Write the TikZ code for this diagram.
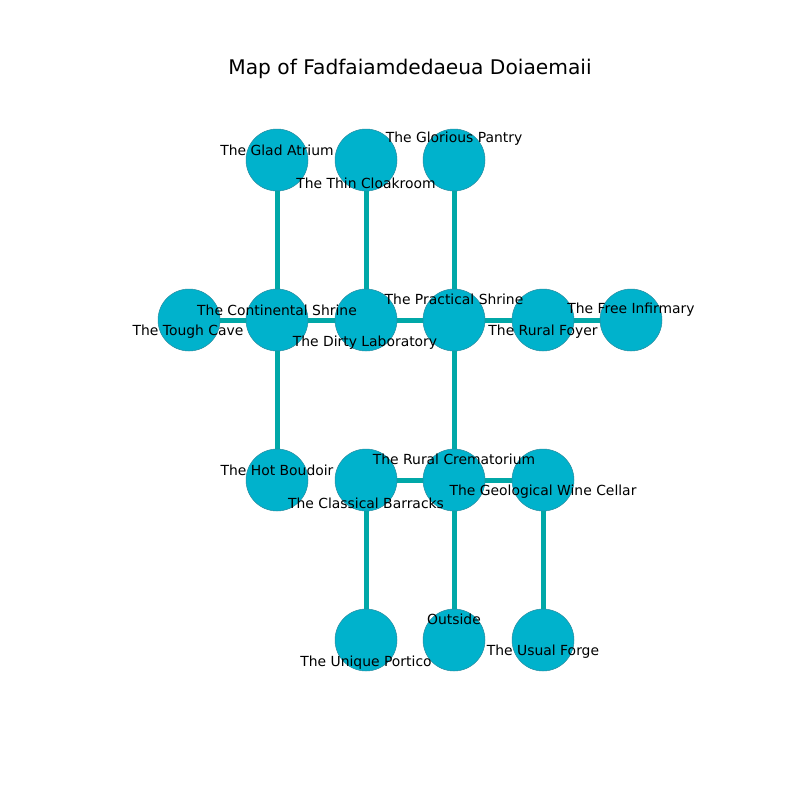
\documentclass[tikz,border=0pt]{standalone}
\usepackage{fontspec}
\setmainfont{DejaVu Sans}
\definecolor{nodefill}{RGB}{0,178,204}
\definecolor{nodeedge}{RGB}{40,140,160}
\definecolor{edgecol}{RGB}{0,168,168}
\tikzset{
  room/.style={circle,draw=nodeedge,line width=0.5pt,fill=nodefill,minimum size=62pt,inner sep=0pt},
  link/.style={draw=edgecol,line width=5pt},
  lbl/.style={font=\fontsize{13.9}{16}\selectfont,inner sep=0pt,text=black,yshift=-2pt},
}
\begin{document}
\begin{tikzpicture}[x=1pt,y=-1pt]
\useasboundingbox[fill=white] (0,0) rectangle (800,800);
% node coordinates
\coordinate (pGA) at (277,160);
\coordinate (pTC) at (366,160);
\coordinate (pGP) at (454,160);
\coordinate (pTo) at (189,320);
\coordinate (pCS) at (277,320);
\coordinate (pDL) at (366,320);
\coordinate (pPS) at (454,320);
\coordinate (pRF) at (543,320);
\coordinate (pFI) at (631,320);
\coordinate (pHB) at (277,480);
\coordinate (pCB) at (366,480);
\coordinate (pRC) at (454,480);
\coordinate (pGW) at (543,480);
\coordinate (pUP) at (366,640);
\coordinate (pOu) at (454,640);
\coordinate (pUF) at (543,640);
% edges
\draw[link] (pGA) -- (pCS);
\draw[link] (pTC) -- (pDL);
\draw[link] (pGP) -- (pPS);
\draw[link] (pTo) -- (pCS);
\draw[link] (pCS) -- (pDL);
\draw[link] (pDL) -- (pPS);
\draw[link] (pPS) -- (pRF);
\draw[link] (pRF) -- (pFI);
\draw[link] (pCS) -- (pHB);
\draw[link] (pPS) -- (pRC);
\draw[link] (pCB) -- (pRC);
\draw[link] (pRC) -- (pGW);
\draw[link] (pCB) -- (pUP);
\draw[link] (pRC) -- (pOu);
\draw[link] (pGW) -- (pUF);
% nodes
\foreach \p/\n in {pGA/GA,pTC/TC,pGP/GP,pTo/To,pCS/CS,pDL/DL,pPS/PS,pRF/RF,pFI/FI,pHB/HB,pCB/CB,pRC/RC,pGW/GW,pUP/UP,pOu/Ou,pUF/UF}
  \node[room] (\n) at (\p) {};
% labels
\node[lbl] (lGA) at (277,148) {The Glad Atrium};
\node[lbl] (lTC) at (366,181) {The Thin Cloakroom};
\node[lbl] (lGP) at (454,137) {The Glorious Pantry};
\node[lbl] (lTo) at (188,330) {The Tough Cave};
\node[lbl] (lCS) at (277,308) {The Continental Shrine};
\node[lbl] (lDL) at (365,341) {The Dirty Laboratory};
\node[lbl] (lPS) at (454,297) {The Practical Shrine};
\node[lbl] (lRF) at (543,330) {The Rural Foyer};
\node[lbl] (lFI) at (631,308) {The Free Infirmary};
\node[lbl] (lHB) at (277,468) {The Hot Boudoir};
\node[lbl] (lCB) at (366,501) {The Classical Barracks};
\node[lbl] (lRC) at (454,457) {The Rural Crematorium};
\node[lbl] (lGW) at (543,490) {The Geological Wine Cellar};
\node[lbl] (lUP) at (366,661) {The Unique Portico};
\node[lbl] (lOu) at (454,617) {Outside};
\node[lbl] (lUF) at (543,650) {The Usual Forge};
\node[font=\fontsize{20.2}{24}\selectfont,inner sep=0pt,yshift=-2pt] (title) at (410,67) {Map of Fadfaiamdedaeua Doiaemaii};
\end{tikzpicture}
\end{document}
